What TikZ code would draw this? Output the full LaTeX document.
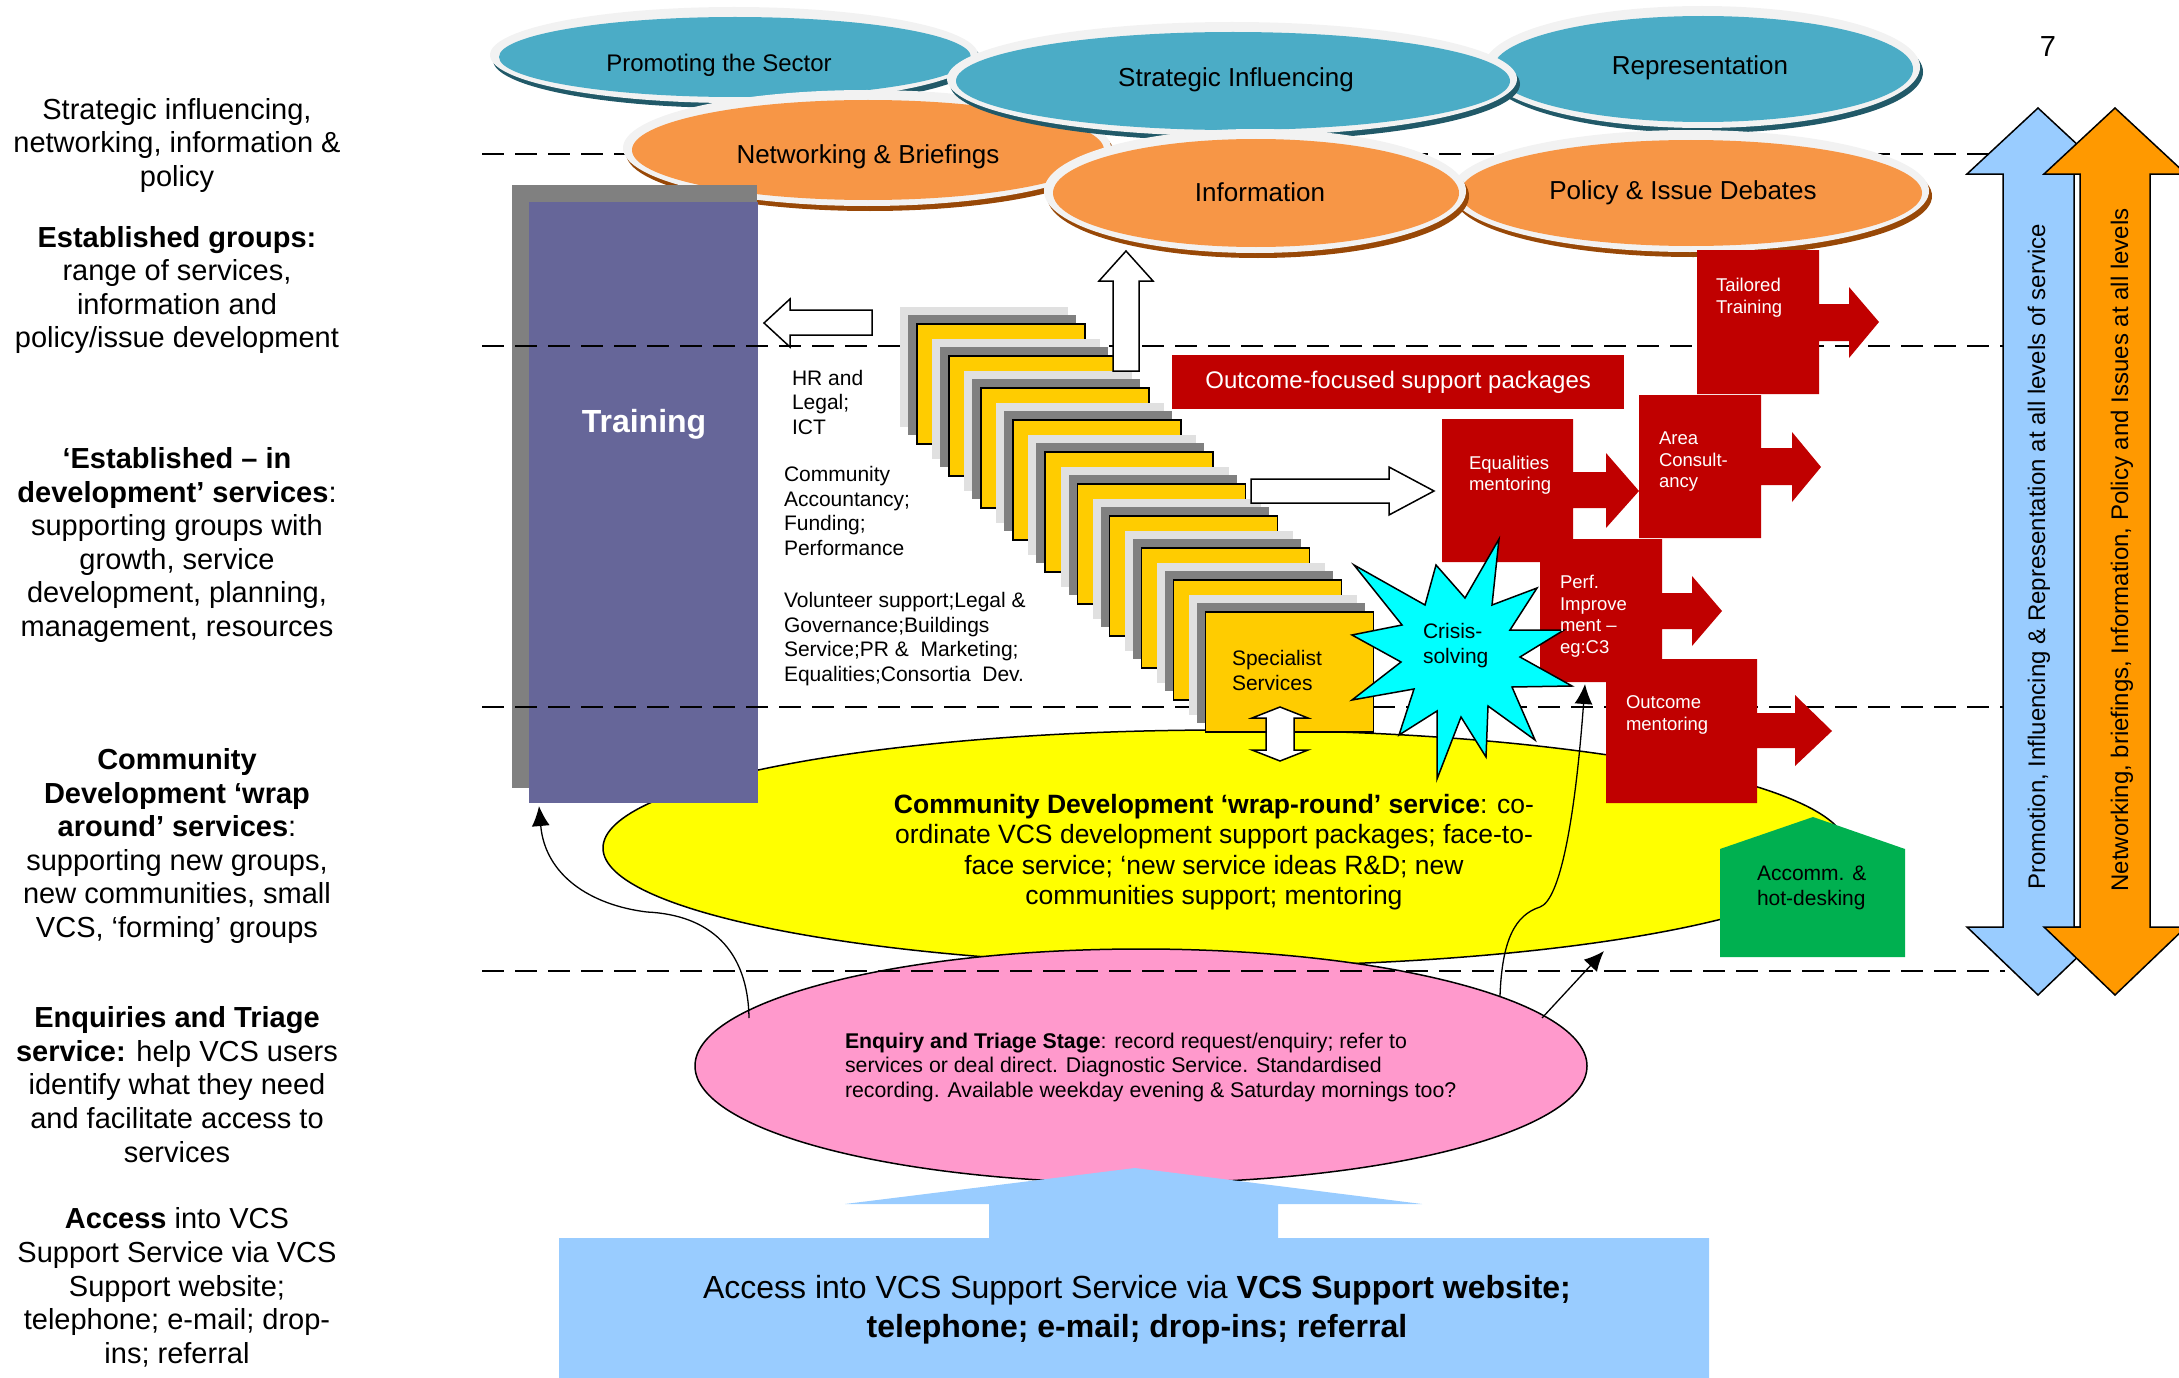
\documentclass[tikz,border=0pt]{standalone}
\usepackage{fontspec}
\setmainfont{Liberation Sans}
\usetikzlibrary{arrows.meta,calc,shapes.geometric}

\newcommand\fsz[2]{\fontsize{#1}{#2}\selectfont}

\definecolor{tealface}{HTML}{4BACC6}
\definecolor{tealshadow}{HTML}{215968}
\definecolor{orangeface}{HTML}{F79646}
\definecolor{orangeshadow}{HTML}{984807}
\definecolor{rim}{HTML}{F2F2F2}
\definecolor{trainpurple}{HTML}{666699}
\definecolor{trainshadow}{HTML}{808080}
\definecolor{cardyellow}{HTML}{FFCC00}
\definecolor{cardgrey}{HTML}{808080}
\definecolor{cardlight}{HTML}{E0E0E0}
\definecolor{packred}{HTML}{C00000}
\definecolor{wrapyellow}{HTML}{FFFF00}
\definecolor{triagepink}{HTML}{FF99CC}
\definecolor{accgreen}{HTML}{00B050}
\definecolor{crisiscyan}{HTML}{00FFFF}
\definecolor{accessblue}{HTML}{99CCFF}
\definecolor{levelorange}{HTML}{FF9900}

% raised bubble: centre x, centre y, x radius, y radius, face colour, shadow colour
\newcommand\bubble[6]{%
  \fill[#6] (#1+3,#2+5) ellipse [x radius=#3, y radius=#4];
  \fill[rim] (#1,#2) ellipse [x radius=#3, y radius=#4];
  \fill[#5] (#1+1,#2+2) ellipse [x radius=#3-8, y radius=#4-8];}

\begin{document}
\begin{tikzpicture}[x=1pt,y=-1pt,
  txt/.style={inner sep=0pt, outer sep=0pt},
  sidetext/.style={txt, align=center, font=\fsz{29}{33.6}},
  guide/.style={black, line width=2pt, dash pattern=on 22pt off 11pt},
  outline/.style={draw=black, line width=1.5pt},
  hollow/.style={outline, fill=white},
  cardface/.style={anchor=north west, draw=black, line width=1.5pt, fill=cardyellow,
    minimum width=168, minimum height=120, inner sep=0pt},
  redtext/.style={txt, anchor=west, align=left, text=white, font=\fsz{18.5}{21.5}},
  smalltext/.style={txt, anchor=west, align=left, font=\fsz{21}{24.5}},
  bubbletext/.style={txt, font=\fsz{26}{30}},
  link/.style={black, line width=1.3pt, -{Latex[length=20pt,width=18pt]}},
]
\useasboundingbox (0,0) rectangle (2179,1378);

% top guide line
\draw[guide] (482,154) -- (2005,154);

% strategic bubbles
\bubble{734}{55}{244}{48}{tealface}{tealshadow}
\bubble{867}{148}{244}{58}{orangeface}{orangeshadow}
\bubble{1702}{67}{218}{61}{tealface}{tealshadow}
\bubble{1232}{79}{285}{57}{tealface}{tealshadow}
\bubble{1690}{191}{239}{61}{orangeface}{orangeshadow}
\bubble{1255}{191}{211}{62}{orangeface}{orangeshadow}

\node[txt, font=\fsz{24}{28}] (promoting) at (719,65) {Promoting the Sector};
\node[bubbletext] (networking) at (868,157) {Networking \& Briefings};
\node[bubbletext] (representation) at (1700,68) {Representation};
\node[bubbletext] (strategic) at (1236,80) {Strategic Influencing};
\node[bubbletext] (policy) at (1683,193) {Policy \& Issue Debates};
\node[bubbletext] (information) at (1260,192) {Information};

% wrap-round and triage ellipses
\node[ellipse, draw=black, line width=1.5pt, fill=wrapyellow, minimum width=1244,
  minimum height=236, inner sep=0pt] (wrap) at (1225,848) {};
\node[ellipse, draw=black, line width=1.5pt, fill=triagepink, minimum width=892,
  minimum height=234, inner sep=0pt] (triage) at (1141,1066) {};

% training column
\fill[trainshadow] (512,185) rectangle (757,788);
\node[fill=trainpurple, anchor=north west, minimum width=229, minimum height=601,
  inner sep=0pt] (training) at (529,202) {};
\node[txt, text=white, font=\fsz{32}{36}\bfseries] (traininglabel) at (644,424) {Training};

% level guide lines
\draw[guide] (482,346) -- (2005,346);
\draw[guide] (482,707) -- (2005,707);
\draw[guide] (482,971) -- (2005,971);

% arrow towards training
\draw[hollow] (764,323) -- (790,299) -- (790,310) -- (872,310) -- (872,335)
  -- (790,335) -- (790,347) -- cycle;

% stack of service cards
\foreach \i in {0,...,9}{
  \pgfmathsetmacro{\cx}{916+32.1*\i}
  \pgfmathsetmacro{\cy}{323+32*\i}
  \fill[cardlight] (\cx-16,\cy-16) rectangle ++(168,120);
  \fill[cardgrey] (\cx-8,\cy-8) rectangle ++(168,120);
  \node[cardface] (card\i) at (\cx,\cy) {};
}
\node[txt, anchor=west, align=left, font=\fsz{21}{25}] (specialist) at (1232,670.5)
  {Specialist\\Services};

% arrows out of the card stack
\draw[hollow] (1126,251) -- (1153,281) -- (1139,281) -- (1139,371) -- (1113,371)
  -- (1113,281) -- (1099,281) -- cycle;
\draw[hollow] (1434,491) -- (1389,467) -- (1389,479) -- (1251,479) -- (1251,503)
  -- (1389,503) -- (1389,515) -- cycle;

% service lists
\node[smalltext] (hrlegal) at (792,402) {HR and\\Legal;\\ICT};
\node[smalltext] (accountancy) at (784,511) {Community\\Accountancy;\\Funding;\\Performance};
\node[smalltext] (volunteer) at (784,639)
  {Volunteer support;Legal \&\\Governance;Buildings\\Service;PR \&\ \ Marketing;\\Equalities;Consortia\ \ Dev.};

% outcome-focused packages
\node[fill=packred, anchor=north west, minimum width=452, minimum height=54,
  inner sep=0pt, text=white, font=\fsz{24}{28}] (packages) at (1172,355)
  {Outcome-focused support packages};

% red package blocks
\fill[packred] (1697,250) -- (1819,250) -- (1819,304) -- (1849,304) -- (1849,287)
  -- (1879,322) -- (1849,358) -- (1849,341) -- (1819,341) -- (1819,394) -- (1697,394) -- cycle;
\fill[packred] (1442,419) -- (1573,419) -- (1573,472) -- (1606,472) -- (1606,453)
  -- (1639,491) -- (1606,528) -- (1606,508) -- (1573,508) -- (1573,562) -- (1442,562) -- cycle;
\fill[packred] (1639,395) -- (1761,395) -- (1761,448) -- (1792,448) -- (1792,432)
  -- (1821,467) -- (1792,502) -- (1792,485) -- (1761,485) -- (1761,538) -- (1639,538) -- cycle;
\fill[packred] (1540,539) -- (1662,539) -- (1662,593) -- (1692,593) -- (1692,576)
  -- (1722,611) -- (1692,646) -- (1692,629) -- (1662,629) -- (1662,682) -- (1540,682) -- cycle;
\fill[packred] (1606,659) -- (1757,659) -- (1757,713) -- (1795,713) -- (1795,695)
  -- (1832,731) -- (1795,766) -- (1795,748) -- (1757,748) -- (1757,803) -- (1606,803) -- cycle;

% crisis star
\draw[outline, fill=crisiscyan] (1499,539) -- (1492,605) -- (1537,588) -- (1510,630)
  -- (1564,630) -- (1520,657) -- (1572,686) -- (1512,687) -- (1535,740) -- (1488,706)
  -- (1486,757) -- (1461,717) -- (1437,779) -- (1437,711) -- (1399,735) -- (1414,689)
  -- (1352,700) -- (1401,662) -- (1352,635) -- (1402,625) -- (1354,565) -- (1425,605)
  -- (1436,565) -- (1465,598) -- cycle;
\node[txt, anchor=west, align=left, font=\fsz{21}{25}] (crisis) at (1423,646)
  {Crisis-\\solving};

% package labels
\node[redtext] (tailored) at (1716,297.5) {Tailored\\Training};
\node[redtext] (equalities) at (1469,475) {Equalities\\mentoring};
\node[redtext] (area) at (1659,462) {Area\\Consult-\\ancy};
\node[redtext] (perf) at (1560,616) {Perf.\\Improve\\ment –\\eg:C3};
\node[redtext] (outcome) at (1626,715) {Outcome\\mentoring};

% accommodation
\fill[accgreen] (1720,849) -- (1813,817) -- (1905,849) -- (1905,957) -- (1720,957) -- cycle;
\node[txt, anchor=west, align=left, font=\fsz{21}{25}] (accomm) at (1757,888)
  {Accomm. \&\\hot-desking};

% link between specialist services and wrap-round service
\draw[hollow] (1280,707) -- (1308,718) -- (1294,718) -- (1294,750) -- (1308,750)
  -- (1280,761) -- (1252,750) -- (1266,750) -- (1266,718) -- (1252,718) -- cycle;

% ellipse texts
\node[txt, align=center, font=\fsz{26.5}{30.5}] (wraptext) at (1214,852)
  {\textbf{Community Development ‘wrap-round’ service}: co-\\ordinate VCS development support packages; face-to-\\face service; ‘new service ideas R\&D; new\\communities support; mentoring};
\node[txt, anchor=west, align=left, font=\fsz{21.3}{24.5}] (triagetext) at (845,1067)
  {\textbf{Enquiry and Triage Stage}: record request/enquiry; refer to\\services or deal direct. Diagnostic Service. Standardised\\recording. Available weekday evening \& Saturday mornings too?};

% referrals out of triage
\coordinate (triageL) at (749,1018);
\coordinate (trainfoot) at (539,806);
\coordinate (triageR) at (1500,996);
\coordinate (perfbase) at (1585,684);
\coordinate (triageR2) at (1542,1018);
\coordinate (wrapedge) at (1604,951);
\draw[link] (triageL) .. controls (748,950) and (710,915) .. (647,912)
  .. controls (590,905) and (545,875) .. (trainfoot);
\draw[link] (triageR) .. controls (1502,940) and (1515,915) .. (1540,907)
  .. controls (1560,900) and (1575,820) .. (perfbase);
\draw[link] (triageR2) -- (wrapedge);

% access routes
\fill[accessblue] (559,1238) -- (989,1238) -- (989,1204) -- (845,1204) -- (1135,1168)
  -- (1422,1204) -- (1278,1204) -- (1278,1238) -- (1709,1238) -- (1709,1378)
  -- (559,1378) -- cycle;
\node[txt, align=center, font=\fsz{32}{39}] (accesstext) at (1137,1310)
  {Access into VCS Support Service via \textbf{VCS Support website;}\\\textbf{telephone; e-mail; drop-ins; referral}};

% all-level arrows
\draw[outline, fill=accessblue] (2038,108) -- (2109,174) -- (2074,174) -- (2074,927)
  -- (2109,927) -- (2038,995) -- (1967,927) -- (2003,927) -- (2003,174) -- (1967,174) -- cycle;
\draw[outline, fill=levelorange] (2115,108) -- (2186,174) -- (2150,174) -- (2150,927)
  -- (2186,927) -- (2115,995) -- (2044,927) -- (2080,927) -- (2080,174) -- (2044,174) -- cycle;
\node[txt, rotate=90, font=\fsz{24}{28}] (promotionlevels) at (2039,557)
  {Promotion, Influencing \& Representation at all levels of service};
\node[txt, rotate=90, font=\fsz{24}{28}] (networkinglevels) at (2122,550)
  {Networking, briefings, Information, Policy and Issues at all levels};

% level descriptions
\node[sidetext] (levelA) at (177,145.5)
  {Strategic influencing,\\networking, information \&\\policy};
\node[sidetext] (levelB) at (177,290)
  {\textbf{Established groups:}\\range of services,\\information and\\policy/issue development};
\node[sidetext] (levelC) at (177,545)
  {\textbf{‘Established – in}\\\textbf{development’ services}:\\supporting groups with\\growth, service\\development, planning,\\management, resources};
\node[sidetext] (levelD) at (177,846)
  {\textbf{Community}\\\textbf{Development ‘wrap}\\\textbf{around’ services}:\\supporting new groups,\\new communities, small\\VCS, ‘forming’ groups};
\node[sidetext] (levelE) at (177,1084.5)
  {\textbf{Enquiries and Triage}\\\textbf{service:} help VCS users\\identify what they need\\and facilitate access to\\services};
\node[sidetext] (levelF) at (177,1287.5)
  {\textbf{Access} into VCS\\Support Service via VCS\\Support website;\\telephone; e-mail; drop-\\ins; referral};

\node[txt, font=\fsz{29}{33}] (pageno) at (2048,47) {7};
\end{tikzpicture}
\end{document}
